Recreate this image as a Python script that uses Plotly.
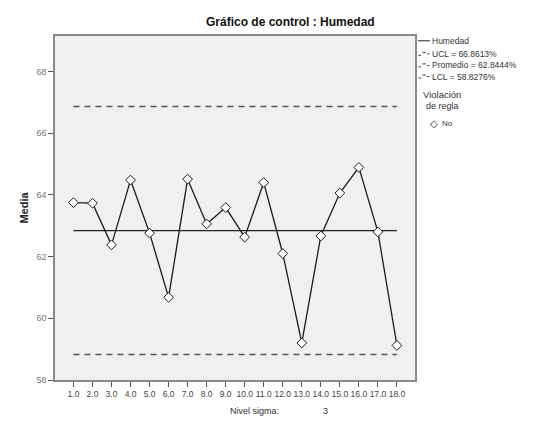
import plotly.graph_objects as go

# Data
samples = list(range(1, 19))
tick_labels = [f"{i}.0" for i in samples]
media = [63.75, 63.73, 62.38, 64.48, 62.76, 60.68, 64.51, 63.06, 63.59,
         62.63, 64.40, 62.10, 59.20, 62.67, 64.06, 64.89, 62.80, 59.12]
ucl = 66.8613
promedio = 62.8444
lcl = 58.8276
y_ticks = [58, 60, 62, 64, 66, 68]

W, H = 542, 428
L, R, T, B = 47, 407, 28, 372  # plot area in pixels

def px(x):
    return (x - L) / (R - L)

def py(y):
    return (B - y) / (B - T)

FONT = "Liberation Sans, Arial, sans-serif"

fig = go.Figure()

for v in (ucl, lcl):
    fig.add_trace(go.Scatter(x=[samples[0], samples[-1]], y=[v, v], mode="lines",
                             line=dict(color="#555555", width=1.5, dash="6px,5px"),
                             hoverinfo="skip"))
fig.add_trace(go.Scatter(x=[samples[0], samples[-1]], y=[promedio, promedio], mode="lines",
                         line=dict(color="#222222", width=1.3),
                         hoverinfo="skip"))
fig.add_trace(go.Scatter(x=samples, y=media, mode="lines+markers",
                         line=dict(color="#1a1a1a", width=1.3),
                         marker=dict(symbol="diamond", size=7.5, color="white",
                                     line=dict(color="#1a1a1a", width=1))))

fig.update_layout(
    width=W, height=H,
    margin=dict(l=L, r=W - R, t=T, b=H - B, autoexpand=False),
    paper_bgcolor="white",
    plot_bgcolor="#F0F0F0",
    showlegend=False,
    font=dict(family=FONT, color="#333333"),
)

fig.update_xaxes(
    range=[0.03, 18.95],
    tickmode="array", tickvals=samples, ticktext=tick_labels,
    tickangle=0,
    tickfont=dict(size=8.5, color="#444444"),
    ticks="outside", ticklen=5, tickcolor="#555555", tickwidth=1,
    showline=True, linecolor="#8a8a8a", linewidth=1.5, mirror=True,
    showgrid=False, zeroline=False, automargin=False,
)
fig.update_yaxes(
    range=[58, 69.15],
    tickmode="array", tickvals=y_ticks, ticktext=[str(v) for v in y_ticks],
    tickfont=dict(size=9, color="#777777"),
    ticks="outside", ticklen=5, tickcolor="#555555", tickwidth=1,
    showline=True, linecolor="#8a8a8a", linewidth=1.5, mirror=True,
    showgrid=False, zeroline=False, automargin=False,
    title=dict(text="<b>Media</b>", font=dict(size=11, color="#222222"), standoff=6),
)

ann = []
def text(x, y, s, size=8, color="#333333", anchor="left"):
    ann.append(dict(xref="paper", yref="paper", x=px(x), y=py(y), text=s,
                    showarrow=False, xanchor=anchor, yanchor="middle",
                    font=dict(family=FONT, size=size, color=color)))

# Title
text(282, 14, "<b>Gráfico de control : Humedad</b>", size=12, color="#111111", anchor="center")
# Bottom caption
text(220, 403, "Nivel sigma:", size=9, color="#333333")
text(317, 403, "3", size=9, color="#333333", anchor="center")

# Legend
shapes = []
def hline(x0, x1, y, dash="solid", color="#222222", width=1):
    shapes.append(dict(type="line", xref="paper", yref="paper",
                       x0=px(x0), x1=px(x1), y0=py(y), y1=py(y),
                       line=dict(color=color, width=width, dash=dash)))

hline(410, 422, 32.8)
text(422, 32.8, "Humedad", size=8.5)
for yy, lab in [(45.9, f"UCL = {ucl}%"), (57.4, f"Promedio = {promedio}%"), (68.5, f"LCL = {lcl}%")]:
    hline(410.5, 413, yy + 1.5, color="#444444")
    hline(414.5, 418, yy - 1.5, color="#444444")
    hline(419, 421.5, yy, color="#444444")
    text(421.5, yy, lab, size=8.5)

text(413.4, 86.8, "Violación", size=9.5, color="#333333")
text(416.3, 98.3, "de regla", size=9, color="#333333")
text(426, 115.5, "◇", size=10, color="#222222", anchor="center")
text(431.6, 115.5, "No", size=8, color="#333333")

fig.update_layout(annotations=ann, shapes=shapes)

fig.write_html("out.html")
